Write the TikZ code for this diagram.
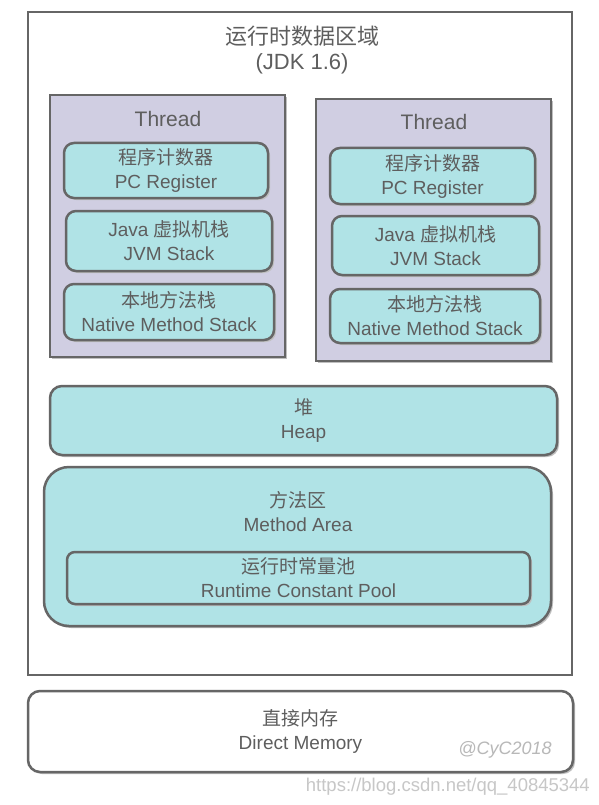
\documentclass[tikz,border=0pt]{standalone}
\usepackage{fontspec}
\setmainfont{Liberation Sans}
\newfontfamily\cjk{Noto Sans CJK SC}
\usetikzlibrary{shadows}
\definecolor{strk}{HTML}{666666}
\definecolor{txt}{HTML}{5E5E5E}
\definecolor{thr}{HTML}{D0CEE2}
\definecolor{cyn}{HTML}{B0E3E6}
\tikzset{
  lbl/.style={text=txt,align=center,font=\fontsize{19}{24}\selectfont,inner sep=0pt},
  thread/.style={draw=strk,line width=2.5pt,fill=thr,drop shadow={shadow xshift=2pt,shadow yshift=-2pt,fill=black!25,opacity=1}},
  cbox/.style={draw=strk,line width=2.5pt,fill=cyn,rounded corners=10pt,drop shadow={shadow xshift=2pt,shadow yshift=-2pt,fill=black!25,opacity=1},lbl},
}
\begin{document}
\begin{tikzpicture}[x=1pt,y=-1pt]
\useasboundingbox (0,0) rectangle (599,805);
\fill[white] (0,0) rectangle (599,805);
% outer
\node[draw=strk,line width=2.5pt,minimum width=544pt,minimum height=663pt,inner sep=0pt] (outer) at (300,343.5) {};
\node[lbl,font=\fontsize{22}{25}\selectfont] (title) at (302,50.5) {{\cjk 运行时数据区域}\\(JDK 1.6)};
% left thread
\node[thread,minimum width=235pt,minimum height=262pt,inner sep=0pt] (tl) at (167.5,226) {};
\node[lbl,font=\fontsize{21}{24}\selectfont] (tlt) at (168,119) {Thread};
\node[cbox,minimum width=204pt,minimum height=55pt] (pcl) at (166,170.5) {{\cjk 程序计数器}\\PC Register};
\node[cbox,minimum width=206pt,minimum height=60pt] (jvml) at (169,241) {Java {\cjk 虚拟机栈}\\JVM Stack};
\node[cbox,minimum width=210pt,minimum height=56pt] (nml) at (169,312) {{\cjk 本地方法栈}\\Native Method Stack};
% right thread
\node[thread,minimum width=235pt,minimum height=262pt,inner sep=0pt] (tr) at (433.5,230) {};
\node[lbl,font=\fontsize{21}{24}\selectfont] (trt) at (434,122) {Thread};
\node[cbox,minimum width=205pt,minimum height=56pt] (pcr) at (432.5,176) {{\cjk 程序计数器}\\PC Register};
\node[cbox,minimum width=207pt,minimum height=59pt] (jvmr) at (435.5,245.5) {Java {\cjk 虚拟机栈}\\JVM Stack};
\node[cbox,minimum width=210pt,minimum height=54pt] (nmr) at (435,316) {{\cjk 本地方法栈}\\Native Method Stack};
% heap
\node[cbox,rounded corners=12pt,minimum width=507pt,minimum height=69pt] (heap) at (303.5,420.5) {{\cjk 堆}\\Heap};
% method area
\node[cbox,rounded corners=25pt,minimum width=507pt,minimum height=159pt] (ma) at (297.5,546.5) {};
\node[lbl] (mat) at (298,512) {{\cjk 方法区}\\Method Area};
\node[cbox,rounded corners=8pt,minimum width=463pt,minimum height=52pt] (rcp) at (298.5,578) {{\cjk 运行时常量池}\\Runtime Constant Pool};
% direct memory
\node[cbox,fill=white,rounded corners=12pt,minimum width=545pt,minimum height=81pt] (dm) at (300.5,731.5) {{\cjk 直接内存}\\Direct Memory};
\node[text=black!28,font=\fontsize{18}{20}\itshape,inner sep=0pt] (wm) at (505,750) {@CyC2018};
\node[text=black!22,font=\fontsize{18.5}{20}\selectfont,inner sep=0pt,anchor=east] (url) at (590,787) {https://blog.csdn.net/qq\_40845344};
\end{tikzpicture}
\end{document}
